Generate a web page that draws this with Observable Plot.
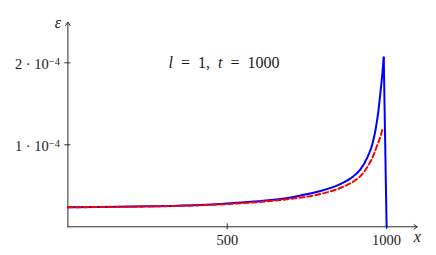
<!DOCTYPE html>
<html><head><meta charset="utf-8">
<script src="https://cdn.jsdelivr.net/npm/d3@7"></script>
<script src="https://cdn.jsdelivr.net/npm/@observablehq/plot@0.6"></script>
<style>
body{margin:0;background:#fff} svg{display:block}
</style>
</head><body><div id="chart"></div>
<script>
// ---- data ----
const blueX = [0, 102, 259, 416, 479, 573, 667, 730, 793, 856, 887, 918, 939, 955, 966, 974, 981, 987, 991, 1000];
const blueY = [0.239e-4, 0.241e-4, 0.250e-4, 0.266e-4, 0.278e-4, 0.305e-4, 0.338e-4, 0.382e-4, 0.437e-4, 0.524e-4,
               0.590e-4, 0.700e-4, 0.840e-4, 1.004e-4, 1.199e-4, 1.406e-4, 1.650e-4, 1.882e-4, 2.065e-4, 0];
const redX = [0, 259, 416, 573, 667, 730, 793, 856, 897, 923, 944, 960, 972, 981, 988];
const redY = [0.239e-4, 0.248e-4, 0.263e-4, 0.295e-4, 0.327e-4, 0.357e-4, 0.400e-4, 0.476e-4, 0.555e-4,
              0.640e-4, 0.758e-4, 0.884e-4, 1.010e-4, 1.105e-4, 1.205e-4];
const xTicks = [500, 1000];
const yTicks = [1e-4, 2e-4];
const yTickMantissa = ["1", "2"];
const yTickExponent = "−4";
const xMax = 1096, yMax = 2.495e-4;
const titleText = "l  =  1,  t  =  1000";
const titleX = 490, titleY = 2e-4;
const yLabel = "ε", xLabel = "x";

const blue = blueX.map((x, i) => ({x, y: blueY[i]}));
const blueRise = blue.slice(0, blue.length - 1);
const blueDrop = blue.slice(blue.length - 2);
const red = redX.map((x, i) => ({x, y: redY[i]}));

const FONT = "'Liberation Serif', 'DejaVu Serif', serif";
const axisColor = "#2a2a2a";
const svg = Plot.plot({
  width: 436, height: 255,
  marginLeft: 67.4, marginRight: 19.3, marginTop: 21.7, marginBottom: 28.7,
  style: {fontSize: "14.5px", color: "#1a1a1a", background: "#fff"},
  x: {domain: [0, xMax]},
  y: {domain: [0, yMax]},
  marks: [
    Plot.arrow([0], {x1: 0, y1: 0, x2: xMax, y2: 0, stroke: axisColor, strokeWidth: 1, headLength: 6, headAngle: 70}),
    Plot.arrow([0], {x1: 0, y1: 0, x2: 0, y2: yMax, stroke: axisColor, strokeWidth: 1, headLength: 6, headAngle: 70}),
    Plot.axisX({ticks: xTicks, tickSize: 6, dy: -3, tickPadding: 5, label: null, stroke: axisColor,
      tickFormat: d => String(d)}),
    Plot.axisY({ticks: yTicks, tickSize: 6, dx: 3, tickPadding: 5, label: null, stroke: axisColor,
      tickFormat: d => yTickMantissa[yTicks.indexOf(d)] + " · 10^" + yTickExponent}),
    Plot.line(blueRise, {x: "x", y: "y", stroke: "#0000ff", strokeWidth: 2, curve: "monotone-x"}),
    Plot.line(blueDrop, {x: "x", y: "y", stroke: "#0000ff", strokeWidth: 2}),
    Plot.line(red, {x: "x", y: "y", stroke: "#ff0000", strokeWidth: 2, strokeDasharray: "5,3", curve: "monotone-x"}),
    Plot.text([titleText], {x: titleX, y: titleY, text: d => d, fontSize: 16}),
    Plot.text([yLabel], {x: 0, y: yMax, text: d => d, dx: -10, dy: 1, fontSize: 16}),
    Plot.text([xLabel], {x: xMax, y: 0, text: d => d, dy: 10, fontSize: 16})
  ]
});

// typeset: letters italic, "^..." as superscript
function mathify(el) {
  const s = el.textContent;
  if (!s) return;
  let base = s, sup = null;
  const k = s.indexOf("^");
  if (k >= 0) { base = s.slice(0, k); sup = s.slice(k + 1); }
  el.textContent = "";
  el.setAttribute("xml:space", "preserve");
  el.style.whiteSpace = "pre";
  const runs = base.match(/[A-Za-zα-ωε]+|[^A-Za-zα-ωε]+/g) || [];
  for (const r of runs) {
    const t = document.createElementNS("http://www.w3.org/2000/svg", "tspan");
    t.textContent = r;
    if (/[A-Za-zα-ωε]/.test(r)) t.setAttribute("font-style", "italic");
    el.appendChild(t);
  }
  if (sup !== null) {
    const t = document.createElementNS("http://www.w3.org/2000/svg", "tspan");
    t.textContent = sup;
    t.setAttribute("dy", "-0.45em");
    t.setAttribute("font-size", "72%");
    el.appendChild(t);
  }
}
svg.style.fontFamily = FONT;
svg.querySelectorAll("text").forEach(el => {
  el.setAttribute("font-family", FONT);
  el.style.fontFamily = FONT;
  if (el.querySelector("tspan")) return;
  mathify(el);
});
const yl = svg.querySelector('g[aria-label="y-axis tick label"]');
if (yl) yl.setAttribute("transform", (yl.getAttribute("transform") || "") + " translate(0,2)");
document.getElementById("chart").appendChild(svg);
</script>
</body></html>
